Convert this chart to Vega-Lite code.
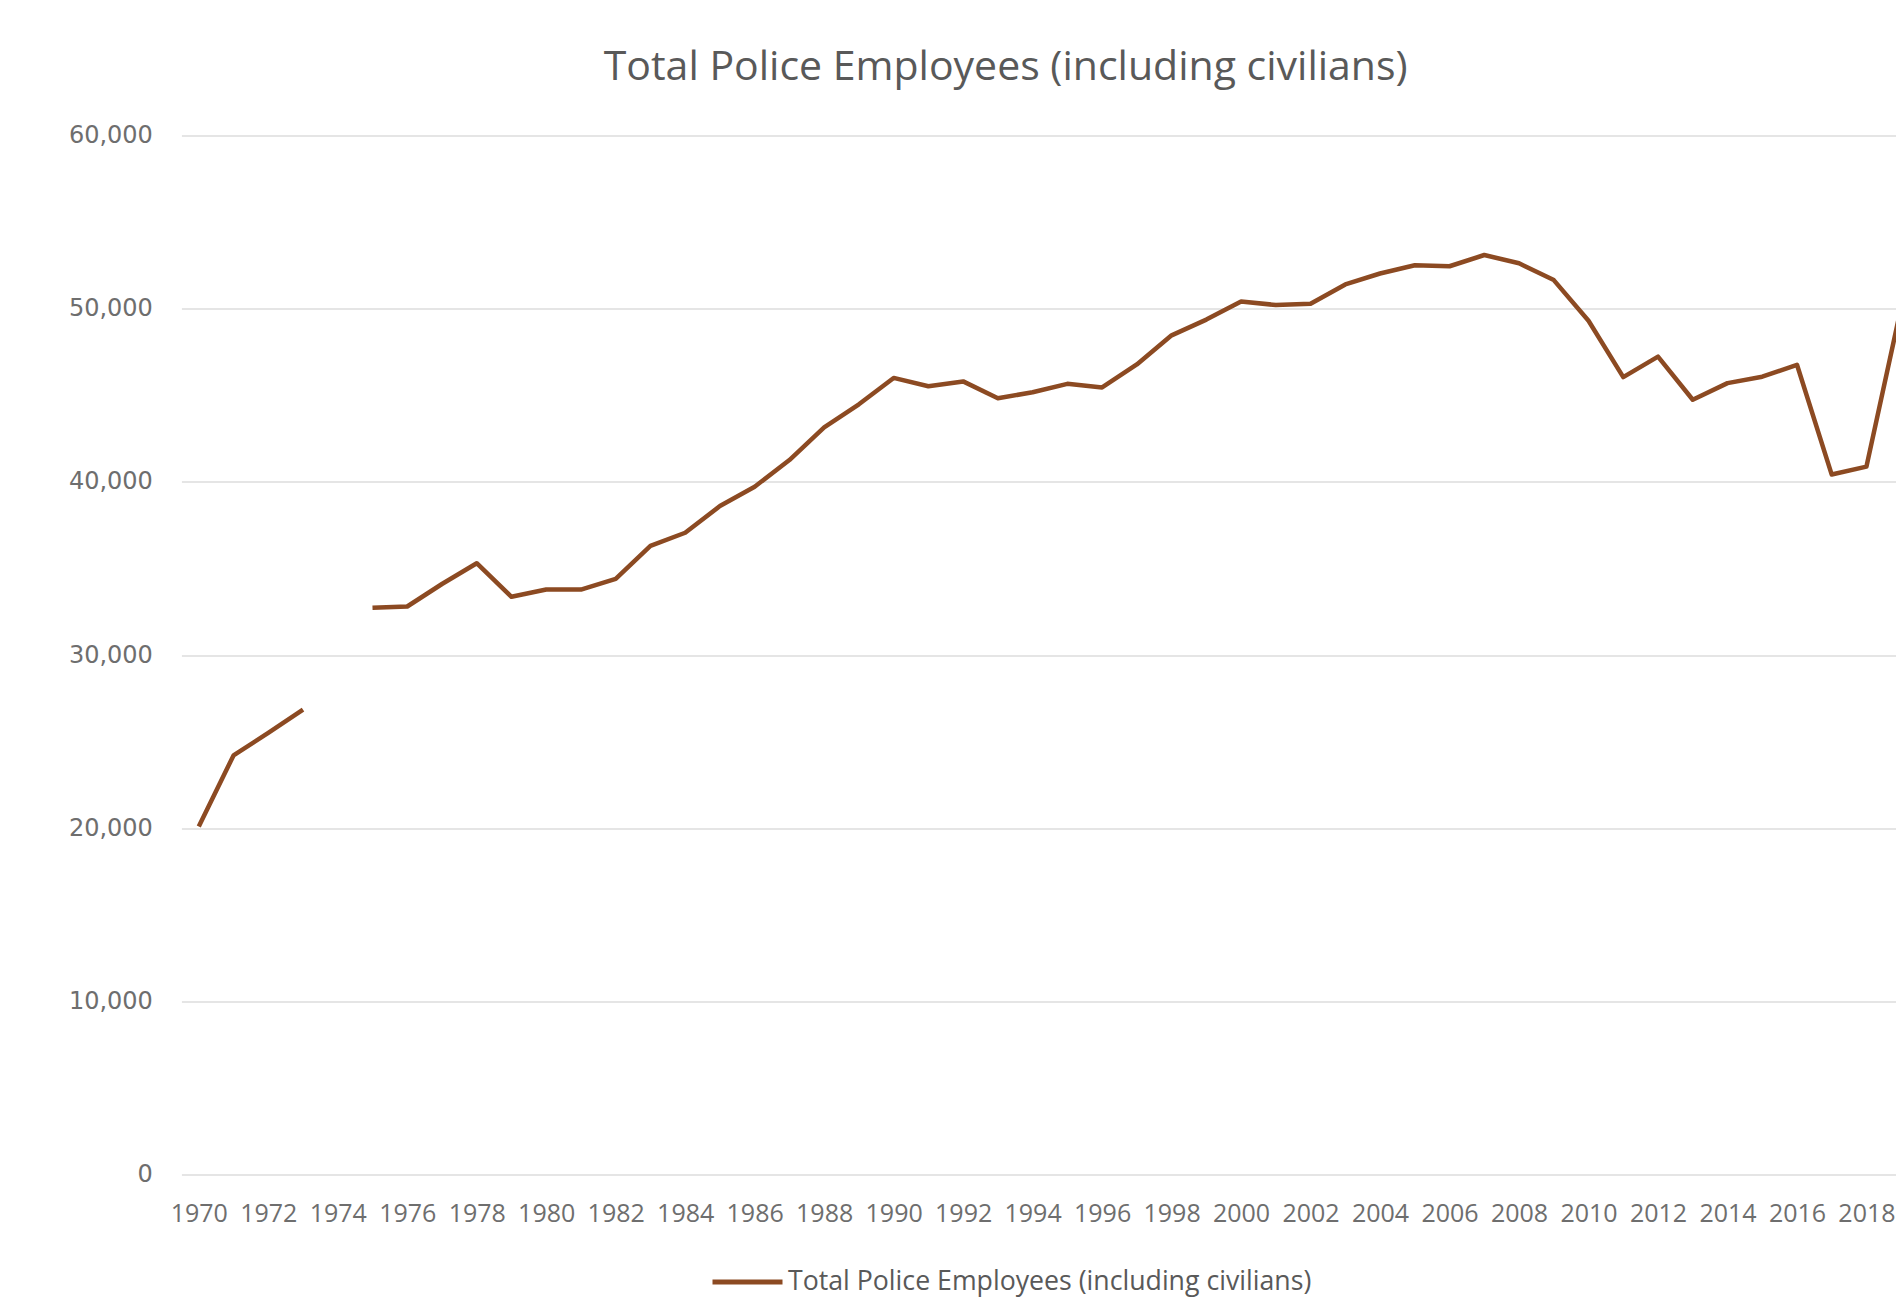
{
  "$schema": "https://vega.github.io/schema/vega-lite/v6.json",
  "autosize": "none",
  "width": 1714.6,
  "height": 1039,
  "padding": {"left": 181.4, "top": 135.5, "right": 0, "bottom": 125.5},
  "background": "white",
  "title": {
    "text": "Total Police Employees (including civilians)",
    "font": "Open Sans",
    "fontSize": 41,
    "fontWeight": "normal",
    "color": "#595959",
    "anchor": "middle",
    "dx": -33,
    "baseline": "alphabetic",
    "offset": 3
  },
  "config": {
    "view": {"stroke": null},
    "legend": {
      "orient": "none",
      "legendX": 528.6,
      "legendY": 1109,
      "symbolType": "stroke",
      "symbolSize": 4900,
      "symbolStrokeWidth": 5,
      "labelFont": "Open Sans",
      "labelFontSize": 26.7,
      "labelColor": "#595959",
      "labelOffset": 3,
      "labelLimit": 1000,
      "title": null
    }
  },
  "data": {
    "values": [
      {"year": 1970, "employees": 20100},
      {"year": 1971, "employees": 24200},
      {"year": 1972, "employees": 25500},
      {"year": 1973, "employees": 26850},
      {"year": 1974, "employees": null},
      {"year": 1975, "employees": 32730},
      {"year": 1976, "employees": 32800},
      {"year": 1977, "employees": 34100},
      {"year": 1978, "employees": 35300},
      {"year": 1979, "employees": 33360},
      {"year": 1980, "employees": 33780},
      {"year": 1981, "employees": 33780},
      {"year": 1982, "employees": 34400},
      {"year": 1983, "employees": 36300},
      {"year": 1984, "employees": 37060},
      {"year": 1985, "employees": 38600},
      {"year": 1986, "employees": 39720},
      {"year": 1987, "employees": 41260},
      {"year": 1988, "employees": 43150},
      {"year": 1989, "employees": 44480},
      {"year": 1990, "employees": 46000},
      {"year": 1991, "employees": 45520},
      {"year": 1992, "employees": 45800},
      {"year": 1993, "employees": 44830},
      {"year": 1994, "employees": 45170},
      {"year": 1995, "employees": 45660},
      {"year": 1996, "employees": 45450},
      {"year": 1997, "employees": 46780},
      {"year": 1998, "employees": 48460},
      {"year": 1999, "employees": 49370},
      {"year": 2000, "employees": 50420},
      {"year": 2001, "employees": 50210},
      {"year": 2002, "employees": 50280},
      {"year": 2003, "employees": 51400},
      {"year": 2004, "employees": 52030},
      {"year": 2005, "employees": 52510},
      {"year": 2006, "employees": 52450},
      {"year": 2007, "employees": 53100},
      {"year": 2008, "employees": 52620},
      {"year": 2009, "employees": 51650},
      {"year": 2010, "employees": 49300},
      {"year": 2011, "employees": 46050},
      {"year": 2012, "employees": 47230},
      {"year": 2013, "employees": 44740},
      {"year": 2014, "employees": 45700},
      {"year": 2015, "employees": 46070},
      {"year": 2016, "employees": 46760},
      {"year": 2017, "employees": 40420},
      {"year": 2018, "employees": 40880},
      {"year": 2019, "employees": 50100}
    ]
  },
  "mark": {
    "type": "line",
    "clip": true,
    "strokeWidth": 4.5,
    "strokeJoin": "round",
    "invalid": "break-paths-filter-domains"
  },
  "encoding": {
    "x": {
      "field": "year",
      "type": "quantitative",
      "scale": {"domain": [1969.5, 2018.85], "nice": false, "zero": false},
      "axis": {
        "title": null,
        "values": [1970, 1972, 1974, 1976, 1978, 1980, 1982, 1984, 1986, 1988, 1990, 1992, 1994, 1996, 1998, 2000, 2002, 2004, 2006, 2008, 2010, 2012, 2014, 2016, 2018],
        "format": "d",
        "grid": false,
        "domain": false,
        "ticks": false,
        "labelFont": "Open Sans",
        "labelFontSize": 25,
        "labelColor": "#6e6e6e",
        "labelPadding": 27,
        "labelOverlap": false,
        "labelFlush": false
      }
    },
    "y": {
      "field": "employees",
      "type": "quantitative",
      "scale": {"domain": [0, 60000], "nice": false},
      "axis": {
        "title": null,
        "values": [0, 10000, 20000, 30000, 40000, 50000, 60000],
        "format": ",d",
        "grid": true,
        "gridColor": "#dcdcdc",
        "gridWidth": 1.5,
        "domain": false,
        "ticks": false,
        "labelFont": "DejaVu Sans",
        "labelFontSize": 24,
        "labelColor": "#6e6e6e",
        "labelPadding": 29
      }
    },
    "color": {
      "datum": "Total Police Employees (including civilians)",
      "type": "nominal",
      "scale": {"range": ["#8c4a22"]}
    }
  }
}
